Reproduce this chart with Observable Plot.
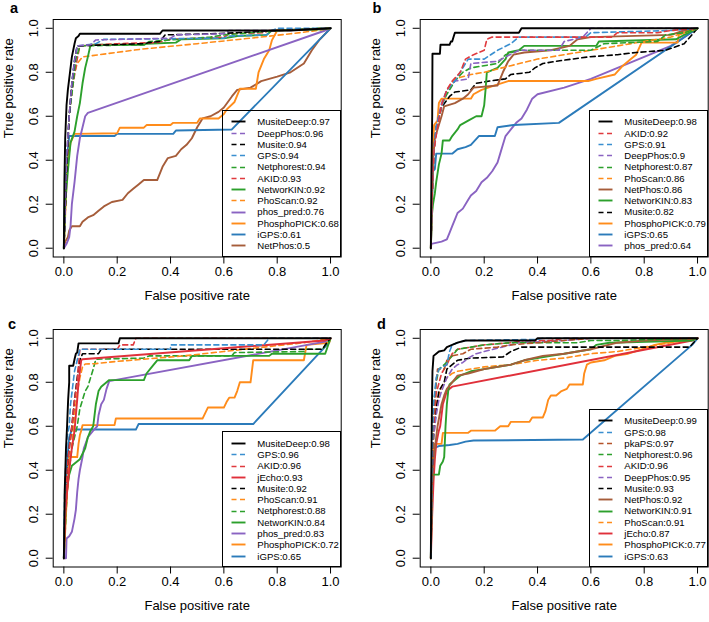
<!DOCTYPE html>
<html><head><meta charset="utf-8">
<script src="https://cdn.jsdelivr.net/npm/d3@7"></script>
<script src="https://cdn.jsdelivr.net/npm/@observablehq/plot@0.6"></script>
<style>
body{margin:0;background:#fff;font-family:"Liberation Sans",Arial,Helvetica,sans-serif;}
#root{position:relative;width:709px;height:622px;overflow:hidden;background:#fff;}
.panel{position:absolute;width:342px;height:310px;}
.panel svg{position:absolute;left:0;top:0;overflow:visible;}
.letter{position:absolute;font-weight:bold;font-size:14.5px;line-height:1;}
.legend{position:absolute;left:222.3px;width:118.4px;bottom:53.5px;border:1px solid #000;box-sizing:border-box;padding-top:5.5px;padding-bottom:4px;background:transparent;}
.row{display:flex;align-items:center;height:11.27px;font-size:9.6px;line-height:11.27px;white-space:nowrap;}
.row svg{position:static;flex:none;}
</style></head>
<body><div id="root"></div>
<script>
// ---------- DATA ----------
const ticks = [0, 0.2, 0.4, 0.6, 0.8, 1.0];

const namesA = ["MusiteDeep","DeepPhos","Musite","GPS","Netphorest","AKID","NetworKIN","PhoScan","phos_pred","PhosphoPICK","iGPS","NetPhos"];
const aucA = [0.97,0.96,0.94,0.94,0.94,0.93,0.92,0.92,0.76,0.68,0.61,0.5];
const curvesA = [
 [[0,0],[0.002,0.3],[0.005,0.5],[0.01,0.65],[0.015,0.72],[0.023,0.8],[0.03,0.87],[0.04,0.93],[0.045,0.955],[0.055,0.965],[0.06,0.975],[0.36,0.975],[0.37,0.99],[0.85,0.99],[1,1]],
 [[0,0],[0.005,0.2],[0.01,0.4],[0.02,0.6],[0.03,0.75],[0.04,0.85],[0.05,0.92],[0.1,0.925],[0.12,0.947],[0.4,0.955],[0.42,0.97],[0.6,0.975],[0.62,0.99],[0.85,0.99],[1,1]],
 [[0,0],[0.006,0.2],[0.012,0.4],[0.02,0.6],[0.03,0.75],[0.04,0.85],[0.05,0.92],[0.3,0.93],[0.32,0.935],[0.36,0.94],[0.38,0.97],[0.55,0.975],[0.65,0.98],[0.8,0.99],[1,1]],
 [[0,0],[0.005,0.2],[0.01,0.4],[0.02,0.6],[0.03,0.75],[0.04,0.86],[0.05,0.92],[0.12,0.93],[0.15,0.95],[0.6,0.955],[0.62,0.965],[0.76,0.97],[0.78,0.99],[0.8,1],[1,1]],
 [[0,0],[0.006,0.2],[0.012,0.4],[0.02,0.6],[0.035,0.75],[0.045,0.86],[0.06,0.92],[0.3,0.925],[0.32,0.94],[0.55,0.96],[0.6,0.97],[0.8,0.99],[0.95,1],[1,1]],
 [[0,0],[0.006,0.2],[0.012,0.4],[0.02,0.6],[0.035,0.75],[0.05,0.86],[0.06,0.92],[0.2,0.93],[0.35,0.935],[0.4,0.95],[0.6,0.96],[0.62,0.975],[0.75,0.98],[0.77,0.99],[1,1]],
 [[0,0],[0.005,0.2],[0.015,0.35],[0.025,0.48],[0.04,0.53],[0.05,0.6],[0.06,0.66],[0.07,0.75],[0.08,0.82],[0.09,0.87],[0.1,0.925],[0.3,0.925],[0.31,0.93],[0.42,0.935],[0.44,0.95],[0.6,0.955],[0.65,0.965],[0.76,0.97],[0.78,0.99],[0.97,0.995],[1,1]],
 [[0,0],[0.005,0.2],[0.01,0.4],[0.02,0.6],[0.03,0.75],[0.05,0.84],[0.07,0.87],[0.29,0.905],[0.5,0.93],[0.7,0.955],[0.85,0.975],[0.95,0.99],[1,1]],
 [[0,0],[0.01,0.02],[0.02,0.05],[0.025,0.1],[0.03,0.2],[0.04,0.3],[0.045,0.36],[0.05,0.42],[0.06,0.5],[0.07,0.55],[0.08,0.6],[0.09,0.615],[0.98,0.99],[1,1]],
 [[0,0],[0.005,0.15],[0.01,0.3],[0.015,0.4],[0.025,0.48],[0.04,0.52],[0.2,0.523],[0.21,0.548],[0.3,0.548],[0.31,0.56],[0.4,0.56],[0.41,0.57],[0.5,0.57],[0.51,0.59],[0.58,0.59],[0.6,0.61],[0.61,0.63],[0.64,0.665],[0.66,0.725],[0.72,0.725],[0.73,0.8],[0.75,0.86],[0.77,0.9],[0.78,0.945],[0.8,0.99],[1,1]],
 [[0,0],[0.003,0.2],[0.008,0.35],[0.015,0.45],[0.02,0.51],[0.19,0.51],[0.2,0.52],[0.41,0.52],[0.42,0.535],[0.63,0.54],[1,1]],
 [[0,0],[0.005,0.03],[0.015,0.05],[0.02,0.08],[0.03,0.1],[0.06,0.1],[0.07,0.12],[0.09,0.14],[0.11,0.15],[0.13,0.17],[0.15,0.19],[0.18,0.21],[0.22,0.22],[0.24,0.25],[0.26,0.27],[0.28,0.29],[0.3,0.31],[0.35,0.31],[0.37,0.37],[0.39,0.41],[0.42,0.42],[0.44,0.45],[0.46,0.47],[0.48,0.5],[0.5,0.55],[0.52,0.59],[0.55,0.6],[0.58,0.62],[0.6,0.64],[0.63,0.69],[0.65,0.72],[0.7,0.73],[0.74,0.76],[0.8,0.78],[0.85,0.8],[0.9,0.84],[0.93,0.9],[0.96,0.95],[1,1]]
];

const namesB = ["MusiteDeep","AKID","GPS","DeepPhos","Netphorest","PhoScan","NetPhos","NetworKIN","Musite","PhosphoPICK","iGPS","phos_pred"];
const aucB = [0.98,0.92,0.91,0.9,0.87,0.86,0.86,0.83,0.82,0.79,0.65,0.64];
const curvesB = [
 [[0,0],[0.002,0.34],[0.005,0.6],[0.006,0.884],[0.034,0.884],[0.036,0.925],[0.07,0.925],[0.075,0.94],[0.08,0.94],[0.085,0.96],[0.09,0.98],[0.33,0.98],[0.34,1],[1,1]],
 [[0,0],[0.005,0.25],[0.012,0.45],[0.025,0.55],[0.04,0.65],[0.06,0.72],[0.08,0.76],[0.11,0.8],[0.13,0.86],[0.16,0.88],[0.2,0.9],[0.21,0.95],[0.23,0.96],[0.68,0.96],[0.7,0.98],[0.85,0.98],[0.9,0.99],[1,1]],
 [[0,0],[0.005,0.25],[0.012,0.45],[0.02,0.55],[0.04,0.64],[0.06,0.72],[0.09,0.76],[0.12,0.82],[0.14,0.86],[0.2,0.86],[0.25,0.9],[0.3,0.93],[0.33,0.96],[0.58,0.96],[0.6,0.98],[0.9,0.99],[1,1]],
 [[0,0],[0.005,0.25],[0.012,0.45],[0.02,0.55],[0.04,0.66],[0.06,0.72],[0.09,0.76],[0.14,0.77],[0.15,0.84],[0.25,0.85],[0.28,0.87],[0.33,0.9],[0.48,0.9],[0.5,0.94],[0.57,0.96],[0.6,1],[1,1]],
 [[0,0],[0.005,0.25],[0.012,0.45],[0.02,0.55],[0.04,0.65],[0.06,0.7],[0.09,0.76],[0.12,0.8],[0.15,0.82],[0.25,0.84],[0.28,0.88],[0.33,0.9],[0.6,0.9],[0.65,0.93],[0.85,0.94],[0.88,0.97],[0.95,0.98],[1,1]],
 [[0,0],[0.005,0.25],[0.012,0.45],[0.02,0.55],[0.04,0.65],[0.06,0.72],[0.09,0.77],[0.15,0.79],[0.2,0.8],[0.3,0.83],[0.4,0.86],[0.5,0.88],[0.6,0.9],[0.7,0.92],[0.8,0.94],[0.9,0.96],[0.95,0.98],[1,1]],
 [[0,0],[0.004,0.2],[0.008,0.4],[0.015,0.5],[0.03,0.56],[0.04,0.6],[0.05,0.645],[0.09,0.66],[0.12,0.68],[0.14,0.7],[0.16,0.73],[0.25,0.74],[0.27,0.8],[0.29,0.85],[0.31,0.88],[0.35,0.89],[0.45,0.9],[0.52,0.92],[0.55,0.95],[0.6,0.96],[0.9,0.97],[0.95,0.99],[1,1]],
 [[0,0],[0.003,0.14],[0.008,0.2],[0.015,0.25],[0.02,0.3],[0.03,0.38],[0.04,0.43],[0.045,0.49],[0.07,0.49],[0.08,0.51],[0.1,0.54],[0.11,0.56],[0.14,0.58],[0.17,0.6],[0.19,0.6],[0.2,0.65],[0.205,0.72],[0.21,0.8],[0.25,0.82],[0.28,0.86],[0.29,0.89],[0.33,0.9],[0.35,0.92],[0.62,0.92],[0.63,0.94],[0.92,0.95],[0.95,0.97],[1,1]],
 [[0,0],[0.005,0.25],[0.012,0.45],[0.02,0.55],[0.04,0.64],[0.07,0.69],[0.09,0.71],[0.15,0.72],[0.17,0.75],[0.22,0.76],[0.28,0.77],[0.3,0.79],[0.37,0.8],[0.39,0.82],[0.42,0.84],[0.47,0.85],[0.53,0.86],[0.59,0.87],[0.7,0.88],[0.77,0.89],[0.88,0.9],[0.95,0.93],[1,1]],
 [[0,0],[0.003,0.2],[0.008,0.45],[0.012,0.56],[0.025,0.58],[0.03,0.66],[0.04,0.68],[0.15,0.68],[0.16,0.7],[0.19,0.72],[0.24,0.74],[0.29,0.76],[0.59,0.76],[0.62,0.77],[0.69,0.79],[0.72,0.83],[0.75,0.86],[0.77,0.88],[0.79,0.935],[0.925,0.935],[0.93,0.97],[0.97,0.99],[1,1]],
 [[0,0],[0.004,0.2],[0.008,0.35],[0.015,0.36],[0.02,0.43],[0.08,0.43],[0.1,0.45],[0.13,0.46],[0.15,0.47],[0.18,0.51],[0.24,0.51],[0.25,0.55],[0.31,0.56],[0.48,0.57],[1,1]],
 [[0,0],[0.002,0.02],[0.04,0.03],[0.06,0.04],[0.07,0.07],[0.08,0.1],[0.09,0.13],[0.1,0.16],[0.12,0.18],[0.14,0.22],[0.15,0.24],[0.17,0.26],[0.19,0.3],[0.21,0.32],[0.23,0.35],[0.25,0.39],[0.26,0.43],[0.27,0.47],[0.28,0.51],[0.3,0.54],[0.32,0.57],[0.34,0.59],[0.36,0.63],[0.38,0.68],[0.4,0.7],[0.5,0.73],[0.6,0.77],[0.7,0.82],[0.8,0.87],[0.9,0.92],[1,1]]
];

const namesC = ["MusiteDeep","GPS","AKID","jEcho","Musite","PhoScan","Netphorest","NetworKIN","phos_pred","PhosphoPICK","iGPS"];
const aucC = [0.98,0.96,0.96,0.93,0.92,0.91,0.88,0.84,0.83,0.72,0.65];
const curvesC = [
 [[0,0],[0.003,0.3],[0.008,0.5],[0.012,0.6],[0.016,0.72],[0.02,0.8],[0.02,0.875],[0.035,0.875],[0.04,0.905],[0.045,0.93],[0.05,0.935],[0.055,0.977],[0.205,0.977],[0.21,1],[1,1]],
 [[0,0],[0.003,0.3],[0.008,0.45],[0.012,0.55],[0.02,0.6],[0.025,0.7],[0.035,0.8],[0.04,0.85],[0.05,0.9],[0.06,0.95],[0.4,0.95],[0.4,0.97],[0.75,0.97],[0.77,1],[1,1]],
 [[0,0],[0.005,0.25],[0.012,0.4],[0.02,0.5],[0.03,0.6],[0.04,0.72],[0.05,0.8],[0.055,0.88],[0.06,0.95],[0.2,0.95],[0.21,0.97],[0.26,0.97],[0.27,1],[1,1]],
 [[0,0],[0.005,0.2],[0.012,0.3],[0.02,0.4],[0.03,0.5],[0.04,0.58],[0.045,0.65],[0.05,0.72],[0.055,0.8],[0.06,0.85],[0.065,0.9],[0.07,0.905],[0.98,0.99],[1,1]],
 [[0,0],[0.005,0.25],[0.012,0.4],[0.02,0.5],[0.03,0.6],[0.04,0.72],[0.05,0.82],[0.06,0.9],[0.07,0.93],[0.13,0.93],[0.14,0.95],[0.97,0.95],[0.98,0.97],[1,1]],
 [[0,0],[0.005,0.15],[0.012,0.3],[0.02,0.42],[0.03,0.52],[0.04,0.65],[0.05,0.75],[0.06,0.82],[0.07,0.87],[0.08,0.883],[0.12,0.885],[0.2,0.895],[0.3,0.905],[0.45,0.92],[0.6,0.94],[0.75,0.96],[0.9,0.98],[1,1]],
 [[0,0],[0.006,0.15],[0.012,0.3],[0.02,0.4],[0.03,0.5],[0.04,0.55],[0.05,0.6],[0.06,0.68],[0.07,0.72],[0.08,0.76],[0.09,0.78],[0.1,0.82],[0.11,0.86],[0.12,0.905],[0.3,0.91],[0.32,0.92],[0.63,0.92],[0.64,0.935],[0.9,0.94],[0.91,0.95],[0.97,0.95],[1,1]],
 [[0,0],[0.004,0.15],[0.01,0.3],[0.02,0.38],[0.03,0.42],[0.06,0.45],[0.08,0.5],[0.09,0.55],[0.1,0.58],[0.11,0.6],[0.115,0.65],[0.12,0.7],[0.13,0.76],[0.14,0.78],[0.16,0.8],[0.17,0.81],[0.3,0.81],[0.31,0.84],[0.33,0.87],[0.35,0.9],[0.47,0.9],[0.48,0.92],[0.77,0.92],[0.78,0.93],[0.98,0.93],[1,1]],
 [[0,0],[0.008,0.0],[0.01,0.09],[0.02,0.1],[0.03,0.12],[0.04,0.18],[0.045,0.22],[0.05,0.3],[0.055,0.36],[0.06,0.4],[0.07,0.46],[0.075,0.5],[0.09,0.55],[0.11,0.58],[0.125,0.6],[0.13,0.65],[0.14,0.7],[0.15,0.72],[0.16,0.77],[0.17,0.805],[0.98,0.985],[1,1]],
 [[0,0],[0.004,0.1],[0.008,0.2],[0.012,0.3],[0.018,0.4],[0.02,0.46],[0.05,0.46],[0.055,0.52],[0.06,0.56],[0.065,0.58],[0.07,0.605],[0.19,0.605],[0.195,0.635],[0.52,0.635],[0.53,0.66],[0.54,0.685],[0.6,0.685],[0.61,0.71],[0.62,0.73],[0.64,0.73],[0.65,0.76],[0.66,0.8],[0.7,0.8],[0.71,0.9],[0.9,0.9],[0.91,0.97],[0.995,0.98],[1,1]],
 [[0,0],[0.003,0.2],[0.008,0.35],[0.015,0.48],[0.02,0.55],[0.03,0.585],[0.27,0.585],[0.28,0.61],[0.71,0.61],[0.99,0.975],[1,1]]
];

const namesD = ["MusiteDeep","GPS","pkaPS","Netphorest","AKID","DeepPhos","Musite","NetPhos","NetworKIN","PhoScan","jEcho","PhosphoPICK","iGPS"];
const aucD = [0.99,0.98,0.97,0.96,0.96,0.95,0.93,0.92,0.91,0.91,0.87,0.77,0.63];
const curvesD = [
 [[0,0],[0.002,0.45],[0.004,0.7],[0.006,0.85],[0.01,0.92],[0.02,0.93],[0.03,0.94],[0.05,0.945],[0.06,0.96],[0.08,0.97],[0.1,0.98],[0.13,0.99],[0.39,0.99],[0.4,1],[1,1]],
 [[0,0],[0.004,0.45],[0.01,0.7],[0.02,0.82],[0.03,0.86],[0.06,0.88],[0.07,0.94],[0.08,0.97],[0.1,0.98],[0.13,0.99],[0.4,0.995],[0.42,1],[1,1]],
 [[0,0],[0.004,0.4],[0.01,0.65],[0.02,0.8],[0.025,0.86],[0.05,0.86],[0.06,0.9],[0.08,0.92],[0.12,0.93],[0.15,0.95],[0.25,0.96],[0.3,0.97],[0.4,0.98],[0.5,0.99],[0.6,1],[1,1]],
 [[0,0],[0.004,0.4],[0.01,0.7],[0.02,0.8],[0.03,0.86],[0.05,0.88],[0.08,0.92],[0.1,0.95],[0.15,0.96],[0.2,0.97],[0.3,0.98],[0.55,0.98],[0.6,0.99],[0.7,0.99],[1,1]],
 [[0,0],[0.004,0.4],[0.01,0.6],[0.02,0.75],[0.04,0.84],[0.06,0.88],[0.08,0.93],[0.1,0.95],[0.15,0.96],[0.2,0.97],[0.3,0.98],[0.35,0.99],[0.45,0.99],[0.5,1],[1,1]],
 [[0,0],[0.004,0.35],[0.01,0.55],[0.02,0.65],[0.03,0.72],[0.04,0.76],[0.06,0.82],[0.08,0.86],[0.1,0.88],[0.12,0.89],[0.14,0.91],[0.17,0.93],[0.2,0.94],[0.25,0.955],[0.3,0.97],[0.33,0.98],[0.5,0.99],[0.6,1],[1,1]],
 [[0,0],[0.004,0.35],[0.01,0.55],[0.02,0.68],[0.03,0.76],[0.05,0.8],[0.06,0.86],[0.08,0.88],[0.1,0.9],[0.15,0.91],[0.27,0.915],[0.3,0.94],[0.34,0.96],[0.97,0.96],[1,1]],
 [[0,0],[0.003,0.3],[0.008,0.42],[0.015,0.5],[0.025,0.6],[0.04,0.7],[0.05,0.74],[0.06,0.77],[0.08,0.8],[0.1,0.83],[0.14,0.84],[0.17,0.85],[0.2,0.86],[0.25,0.87],[0.3,0.88],[0.35,0.9],[0.42,0.92],[0.5,0.93],[0.55,0.94],[0.6,0.95],[0.7,0.98],[0.8,0.99],[1,1]],
 [[0,0],[0.003,0.3],[0.006,0.38],[0.03,0.38],[0.035,0.42],[0.045,0.44],[0.05,0.46],[0.055,0.6],[0.06,0.7],[0.065,0.76],[0.07,0.79],[0.09,0.81],[0.11,0.83],[0.15,0.85],[0.2,0.86],[0.3,0.88],[0.35,0.9],[0.45,0.92],[0.5,0.93],[0.55,0.94],[0.6,0.95],[0.62,0.97],[0.67,0.98],[0.98,0.99],[1,1]],
 [[0,0],[0.004,0.4],[0.01,0.6],[0.02,0.7],[0.04,0.78],[0.06,0.82],[0.08,0.84],[0.1,0.85],[0.15,0.86],[0.2,0.87],[0.3,0.88],[0.4,0.9],[0.5,0.91],[0.6,0.93],[0.7,0.94],[0.8,0.96],[0.9,0.98],[1,1]],
 [[0,0],[0.005,0.2],[0.01,0.35],[0.015,0.45],[0.02,0.52],[0.03,0.58],[0.035,0.6],[0.04,0.65],[0.045,0.7],[0.055,0.74],[0.06,0.76],[0.08,0.78],[0.98,0.99],[1,1]],
 [[0,0],[0.003,0.3],[0.006,0.45],[0.01,0.5],[0.015,0.52],[0.04,0.52],[0.045,0.57],[0.14,0.57],[0.15,0.58],[0.24,0.58],[0.26,0.6],[0.29,0.6],[0.3,0.62],[0.37,0.62],[0.38,0.64],[0.42,0.64],[0.43,0.67],[0.44,0.72],[0.45,0.74],[0.47,0.74],[0.49,0.76],[0.51,0.77],[0.52,0.79],[0.57,0.79],[0.575,0.84],[0.585,0.88],[0.6,0.89],[0.65,0.9],[0.69,0.92],[0.74,0.93],[0.79,0.95],[0.84,0.97],[0.88,0.98],[0.95,0.99],[1,1]],
 [[0,0],[0.002,0.35],[0.005,0.45],[0.01,0.5],[0.03,0.51],[0.07,0.515],[0.1,0.52],[0.13,0.53],[0.16,0.535],[0.57,0.54],[0.98,0.97],[1,1]]
];

// ---------- STYLES ----------
const style = {
  MusiteDeep: {color: "#000000", dashed: false},
  DeepPhos:   {color: "#8a63c2", dashed: true},
  Musite:     {color: "#000000", dashed: true},
  GPS:        {color: "#3a8fd0", dashed: true},
  Netphorest: {color: "#2ca02c", dashed: true},
  AKID:       {color: "#e03a3e", dashed: true},
  NetworKIN:  {color: "#2ca02c", dashed: false},
  PhoScan:    {color: "#ff8c1a", dashed: true},
  phos_pred:  {color: "#8a63c2", dashed: false},
  PhosphoPICK:{color: "#ff8c1a", dashed: false},
  iGPS:       {color: "#2b7bba", dashed: false},
  NetPhos:    {color: "#a65d3a", dashed: false},
  pkaPS:      {color: "#b5532a", dashed: true},
  jEcho:      {color: "#e0303a", dashed: false}
};
const DASH = "5,3.5";
const lw = s => s.dashed ? 1.6 : 1.9;
const FS = 13;

const panels = [
  {letter: "a", names: namesA, aucs: aucA, curves: curvesA, left: 0,   top: 0,     lx: 10,  ly: 1},
  {letter: "b", names: namesB, aucs: aucB, curves: curvesB, left: 367, top: 0,     lx: 5.5, ly: 1},
  {letter: "c", names: namesC, aucs: aucC, curves: curvesC, left: 0,   top: 310.3, lx: 8,   ly: 7},
  {letter: "d", names: namesD, aucs: aucD, curves: curvesD, left: 367, top: 310.3, lx: 10,  ly: 7}
];

const root = document.getElementById("root");
const fmt = d3.format(".1f");

for (const p of panels) {
  const marks = [
    Plot.frame({stroke: "black", strokeWidth: 1}),
    Plot.axisX({ticks, tickFormat: fmt, tickSize: 7, tickPadding: 3, label: null, fontSize: FS}),
    Plot.axisY({ticks, tickFormat: fmt, tickSize: 7, tickPadding: 8, tickRotate: -90, label: null, fontSize: FS}),
    Plot.text(["False positive rate"], {frameAnchor: "bottom", dy: 42.5, fontSize: FS}),
    Plot.text(["True positive rate"], {frameAnchor: "left", dx: -44, rotate: -90, fontSize: FS})
  ];
  for (let i = p.names.length - 1; i >= 0; i--) {
    const s = style[p.names[i]];
    marks.push(Plot.line(p.curves[i], {
      x: d => d[0], y: d => d[1], stroke: s.color, strokeWidth: lw(s),
      strokeDasharray: s.dashed ? DASH : undefined, strokeLinejoin: "round"
    }));
  }
  const svg = Plot.plot({
    width: 342, height: 310,
    marginLeft: 52.7, marginRight: 1.3, marginTop: 19, marginBottom: 53.5,
    x: {domain: [-0.04, 1.04]},
    y: {domain: [-0.04, 1.04]},
    style: {fontFamily: "'Liberation Sans', Arial, Helvetica, sans-serif", fontSize: FS + "px", color: "black", background: "transparent"},
    marks
  });
  const div = document.createElement("div");
  div.className = "panel";
  div.style.left = p.left + "px";
  div.style.top = p.top + "px";
  div.appendChild(svg);

  const letter = document.createElement("div");
  letter.className = "letter";
  letter.textContent = p.letter;
  letter.style.left = p.lx + "px";
  letter.style.top = p.ly + "px";
  div.appendChild(letter);

  const leg = document.createElement("div");
  leg.className = "legend";
  p.names.forEach((n, i) => {
    const s = style[n];
    const row = document.createElement("div");
    row.className = "row";
    const ns = "http://www.w3.org/2000/svg";
    const sv = document.createElementNS(ns, "svg");
    sv.setAttribute("width", "34"); sv.setAttribute("height", "11");
    const ln = document.createElementNS(ns, "line");
    ln.setAttribute("x1", "8.5"); ln.setAttribute("x2", "22.5");
    ln.setAttribute("y1", "5.5"); ln.setAttribute("y2", "5.5");
    ln.setAttribute("stroke", s.color);
    ln.setAttribute("stroke-width", lw(s));
    if (s.dashed) ln.setAttribute("stroke-dasharray", DASH);
    sv.appendChild(ln);
    row.appendChild(sv);
    const t = document.createElement("span");
    t.textContent = `${n}:${p.aucs[i]}`;
    row.appendChild(t);
    leg.appendChild(row);
  });
  div.appendChild(leg);
  root.appendChild(div);
}
</script>
</body></html>
